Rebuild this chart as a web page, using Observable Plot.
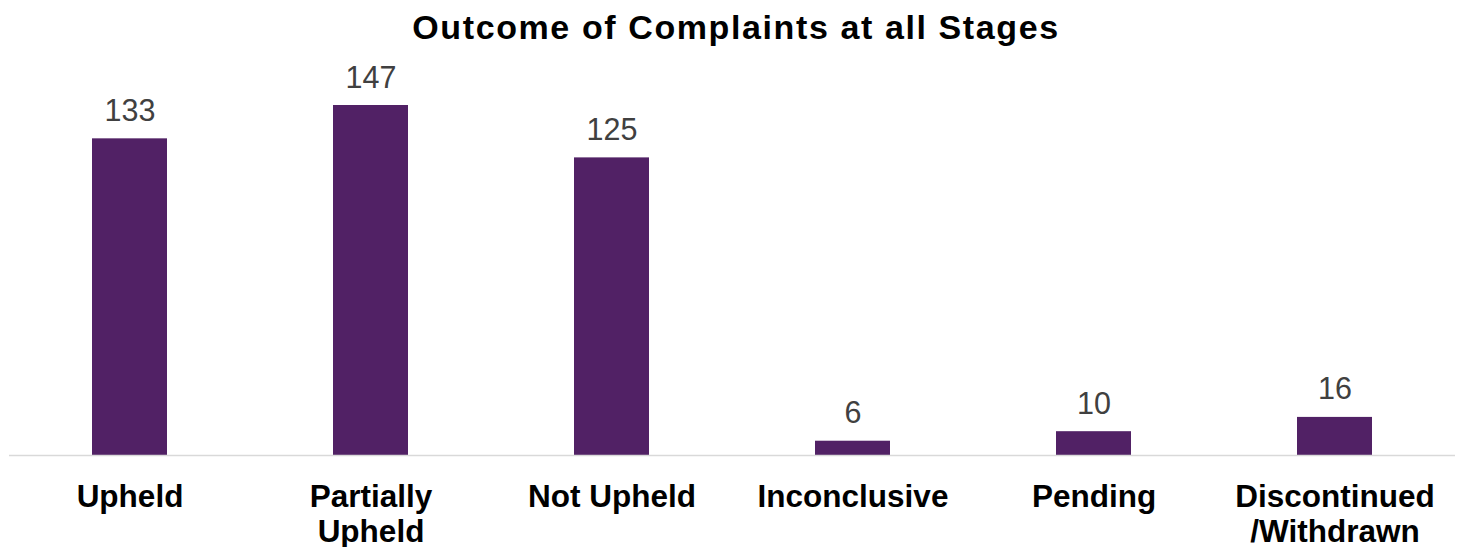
<!DOCTYPE html>
<html>
<head>
<meta charset="utf-8">
<script src="https://cdn.jsdelivr.net/npm/d3@7"></script>
<script src="https://cdn.jsdelivr.net/npm/@observablehq/plot@0.6"></script>
<style>
  html, body { margin: 0; padding: 0; background: #fff; }
  #wrap { position: relative; width: 1458px; height: 547px; font-family: "Liberation Sans", Arial, sans-serif; }
  #title { position: absolute; left: 0; top: 0; width: 1458px; height: 57px; text-align: center;
           font-weight: bold; font-size: 34px; letter-spacing: 1.6px; line-height: 54px; color: #000; padding-left: 14px; box-sizing: border-box; }
  #chart { position: absolute; left: 0; top: 57px; }
</style>
</head>
<body>
<div id="wrap">
  <div id="title">Outcome of Complaints at all Stages</div>
  <div id="chart"></div>
</div>
<script>
const categories = ["Upheld", "Partially\nUpheld", "Not Upheld", "Inconclusive", "Pending", "Discontinued\n/Withdrawn"];
const values = [133, 147, 125, 6, 10, 16];

const data = categories.map((c, i) => ({category: c, value: values[i]}));

const chart = Plot.plot({
  width: 1458,
  height: 490,
  marginTop: 48,
  marginBottom: 92,
  marginLeft: 9,
  marginRight: 3,
  style: {fontFamily: "'Liberation Sans', Arial, sans-serif", background: "#fff", overflow: "visible"},
  x: {domain: categories, paddingInner: 0.69, paddingOuter: 0.345, axis: null},
  y: {domain: [0, 147], axis: null},
  marks: [
    Plot.barY(data, {x: "category", y: "value", fill: "#512165"}),
    Plot.ruleY([0], {stroke: "#D9D9D9", strokeWidth: 1.5}),
    Plot.text(data, {x: "category", y: "value", text: d => String(d.value), lineAnchor: "bottom", dy: -18, fontSize: 30.5, fill: "#404040"}),
    Plot.text(data, {x: "category", y: () => 0, text: "category", lineAnchor: "top", dy: 26, fontSize: 31.5, fontWeight: "bold", fill: "#000", lineHeight: 1.12})
  ]
});
document.getElementById("chart").appendChild(chart);
</script>
</body>
</html>
